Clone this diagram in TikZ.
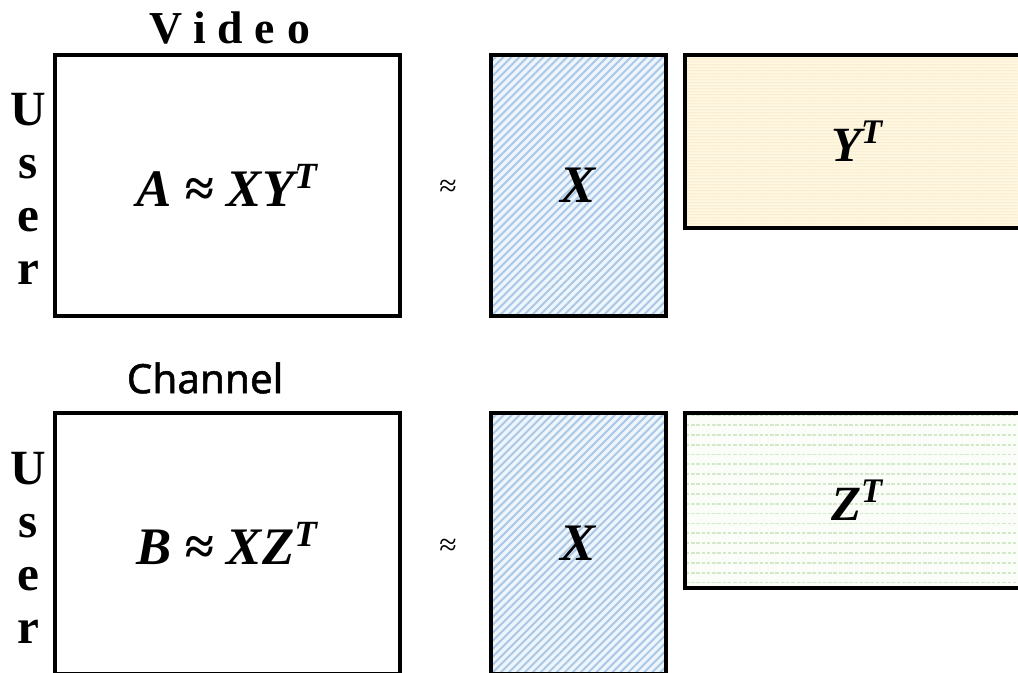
\documentclass[tikz,border=0pt]{standalone}
\usepackage{fontspec}
\setmainfont{Liberation Serif}
\newfontfamily\chanfont[FakeBold=1.2]{Noto Sans}
\usetikzlibrary{patterns,patterns.meta}
\definecolor{hatchbg}{RGB}{238,245,252}
\definecolor{hatchfg}{RGB}{168,200,230}
\definecolor{creambg}{RGB}{255,247,226}
\definecolor{creamfg}{RGB}{247,234,200}
\definecolor{greenbg}{RGB}{251,253,248}
\definecolor{greenfg}{RGB}{212,232,204}
\pgfdeclarepatternformonly{rowdash}{\pgfqpoint{-.1pt}{-.1pt}}{\pgfqpoint{1.6pt}{3pt}}{\pgfqpoint{1.5pt}{2.8pt}}{%
  \pgfpathrectangle{\pgfqpoint{0pt}{0pt}}{\pgfqpoint{1pt}{0.5pt}}\pgfusepath{fill}}
\newcommand{\tsup}[1]{\textsuperscript{#1}}
\tikzset{
  box/.style={draw, line width=1pt, inner sep=0pt, minimum width=3.45cm},
  kfull/.style={box, fill=white, minimum height=2.61cm, font=\fontsize{15}{18}\selectfont\bfseries\itshape},
  kshared/.style={box, minimum width=1.75cm, minimum height=2.61cm,
    preaction={fill=hatchbg}, pattern={Lines[angle=45, distance=1.6pt, line width=0.55pt]}, pattern color=hatchfg,
    font=\fontsize{15}{17}\selectfont\bfseries\itshape},
  kvideo/.style={box, minimum height=1.73cm,
    preaction={fill=creambg}, pattern={Lines[angle=0, distance=0.9pt, line width=0.35pt]}, pattern color=creamfg,
    font=\fontsize{14}{16}\selectfont\bfseries\itshape},
  kchannel/.style={box, minimum height=1.75cm,
    preaction={fill=greenbg}, pattern=rowdash, pattern color=greenfg,
    font=\fontsize{14}{16}\selectfont\bfseries\itshape},
  kside/.style={align=center, inner sep=0pt, font=\fontsize{14}{15.1}\selectfont\bfseries},
  kapprox/.style={inner sep=0pt, font=\fontsize{9}{10}\selectfont},
}
\begin{document}
\begin{tikzpicture}[x=0.01cm, y=-0.01cm]
  \clip (0,0) rectangle (1018,672);
  \node[inner sep=0pt, font=\fontsize{13}{15}\selectfont\bfseries\addfontfeature{LetterSpace=26}] (videolbl) at (230,28) {Video};
  \node[inner sep=0pt, font=\chanfont\fontsize{11.5}{14}\selectfont] (chanlbl) at (205,378) {Channel};
  \node[kside] (user1) at (28,189) {U\\s\\e\\r};
  \node[kside] (user2) at (28,548) {U\\s\\e\\r};
  \node[kfull] (matA) at (227.5,185.5) {A ≈ XY\tsup{T}};
  \node[kfull] (matB) at (227.5,543.5) {B ≈ XZ\tsup{T}};
  \node[kapprox] (approx1) at (448,188) {≈};
  \node[kapprox] (approx2) at (448,547) {≈};
  \node[kshared] (userX1) at (578.5,185.5) {X};
  \node[kshared] (userX2) at (578.5,543.5) {X};
  \node[kvideo] (videoY) at (857.5,141.5) {Y\tsup{T}};
  \node[kchannel] (chanZ) at (857.5,500.5) {Z\tsup{T}};
\end{tikzpicture}
\end{document}
